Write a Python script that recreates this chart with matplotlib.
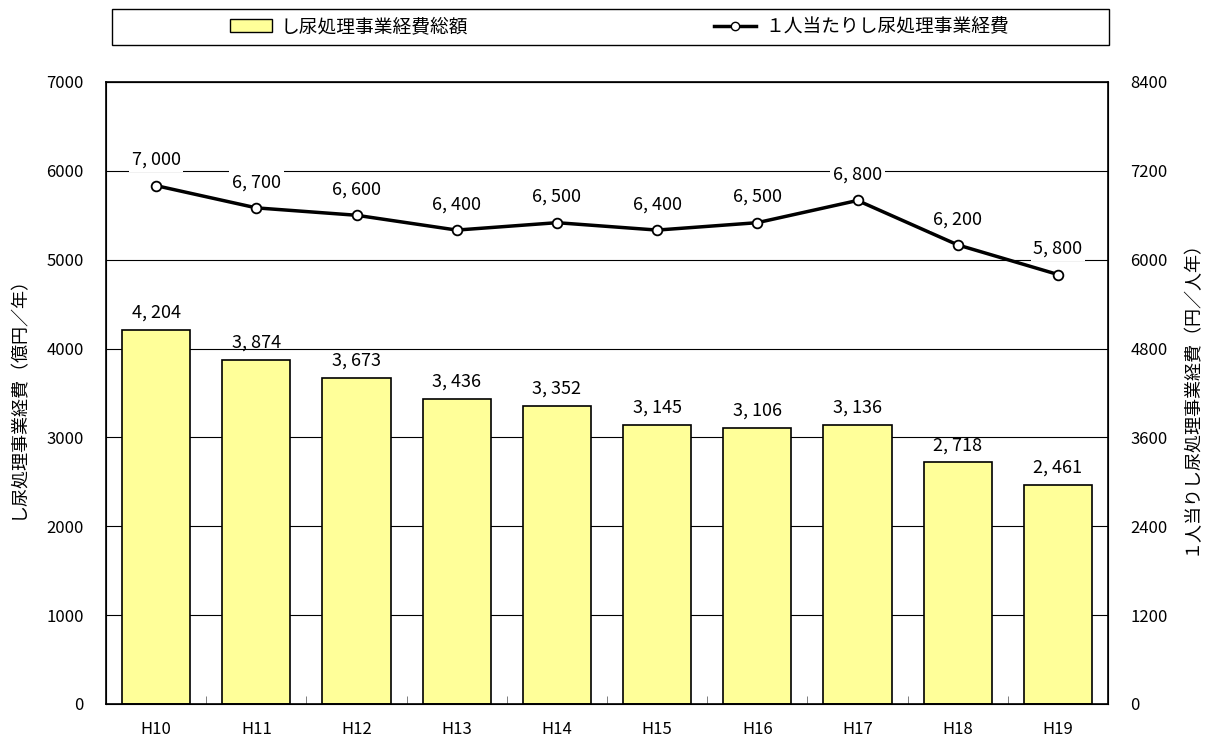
import matplotlib.pyplot as plt
import numpy as np
from matplotlib.lines import Line2D
from matplotlib.patches import Patch

plt.rcParams['font.family'] = ['Noto Sans CJK JP', 'DejaVu Sans']

years = ['H10', 'H11', 'H12', 'H13', 'H14', 'H15', 'H16', 'H17', 'H18', 'H19']
total = [4204, 3874, 3673, 3436, 3352, 3145, 3106, 3136, 2718, 2461]
per_person = [7000, 6700, 6600, 6400, 6500, 6400, 6500, 6800, 6200, 5800]

fig = plt.figure(figsize=(12.05, 7.44), dpi=100)
ax = fig.add_axes([0.088, 0.0538, 0.8315, 0.836])
x = np.arange(len(years))

ax.set_axisbelow(True)
ax.grid(axis='y', color='black', linewidth=0.8)
ax.bar(x, total, width=0.68, color='#FFFF99', edgecolor='black', linewidth=1.2, zorder=2)
ax.set_xlim(-0.5, len(years) - 0.5)
ax.set_ylim(0, 7000)
ax.set_yticks(range(0, 7001, 1000))
ax.set_xticks(x)
ax.set_xticklabels(years, fontsize=12)
ax.set_xticks(x[:-1] + 0.5, minor=True)
ax.tick_params(axis='x', which='major', length=0, pad=12)
ax.tick_params(axis='x', which='minor', direction='in', length=6, color='dimgray')
ax.tick_params(axis='y', length=0, pad=16, labelsize=12)
ax.set_ylabel('し尿処理事業経費（億円／年）', fontsize=13, labelpad=14)
for s in ax.spines.values():
    s.set_linewidth(1.2)

for xi, v in zip(x, total):
    ax.annotate(f'{v:,}'.replace(',', ', '), (xi, v), xytext=(0, 6), textcoords='offset points',
                ha='center', va='bottom', fontsize=13, zorder=5)

ax2 = ax.twinx()
ax2.set_ylim(0, 8400)
ax2.set_yticks(range(0, 8401, 1200))
ax2.tick_params(axis='y', length=0, pad=16, labelsize=12)
ax2.plot(x, per_person, color='black', linewidth=2.5, marker='o', markersize=7,
         markerfacecolor='white', markeredgecolor='black', markeredgewidth=1.3, zorder=3)
ax2.set_ylabel('１人当りし尿処理事業経費（円／人年）', fontsize=13, labelpad=10)
for xi, v in zip(x, per_person):
    ax2.annotate(f'{v:,}'.replace(',', ', '), (xi, v), xytext=(0, 12), textcoords='offset points',
                 ha='center', va='bottom', fontsize=13, zorder=5,
                 bbox=dict(boxstyle='square,pad=0.15', fc='white', ec='none'))

# legend box across the top
handles1 = [Patch(facecolor='#FFFF99', edgecolor='black', label='し尿処理事業経費総額')]
handles2 = [Line2D([], [], color='black', linewidth=2.5, marker='o', markersize=6,
                   markerfacecolor='white', label='１人当たりし尿処理事業経費')]
frame = plt.Rectangle((0.093, 0.94), 0.827, 0.048, transform=fig.transFigure,
                      fill=False, edgecolor='black', linewidth=1.0)
fig.add_artist(frame)
fig.legend(handles=handles1, loc='center', bbox_to_anchor=(0.29, 0.964), frameon=False,
           fontsize=13.5, handlelength=2.2, handletextpad=0.5)
fig.legend(handles=handles2, loc='center', bbox_to_anchor=(0.715, 0.964), frameon=False,
           fontsize=13.5, handlelength=2.2, handletextpad=0.5)

fig.savefig('out.png', dpi=100)
